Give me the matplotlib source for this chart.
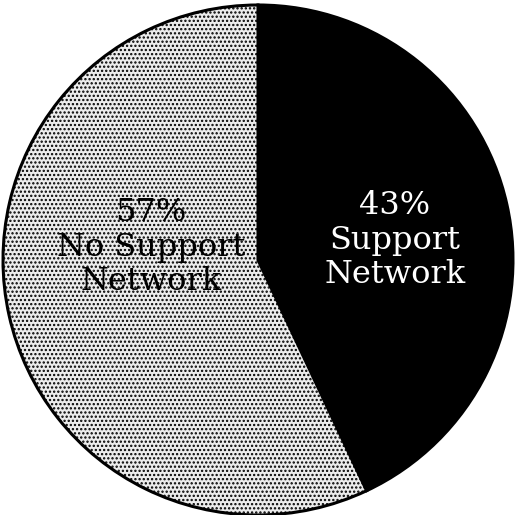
import matplotlib.pyplot as plt

labels = ["Support\nNetwork", "No Support\nNetwork"]
shares = [43, 57]

plt.rcParams['hatch.linewidth'] = 1.1
fig = plt.figure(figsize=(5.16, 5.15), dpi=100)
ax = fig.add_axes([0, 0, 1, 1])

wedges, _ = ax.pie(shares, startangle=90, counterclock=False,
                   colors=["black", "white"],
                   wedgeprops=dict(edgecolor="black", linewidth=2.2))
wedges[1].set_hatch("....")
wedges[1].set_facecolor("#ececec")

# label positions (axes data units)
pos = [(0.537, 0.078), (-0.42, 0.05)]
tcol = ["white", "black"]
for lab, v, p, c in zip(labels, shares, pos, tcol):
    ax.text(p[0], p[1], f"{v}%\n{lab}", ha="center", va="center",
            color=c, fontsize=23, family="DejaVu Serif", linespacing=1.15)

ax.set_aspect("auto")
ax.set_xlim(-1.0118, 1.0118)
ax.set_ylim(-1.0, 1.0196)
fig.savefig("out.png")
